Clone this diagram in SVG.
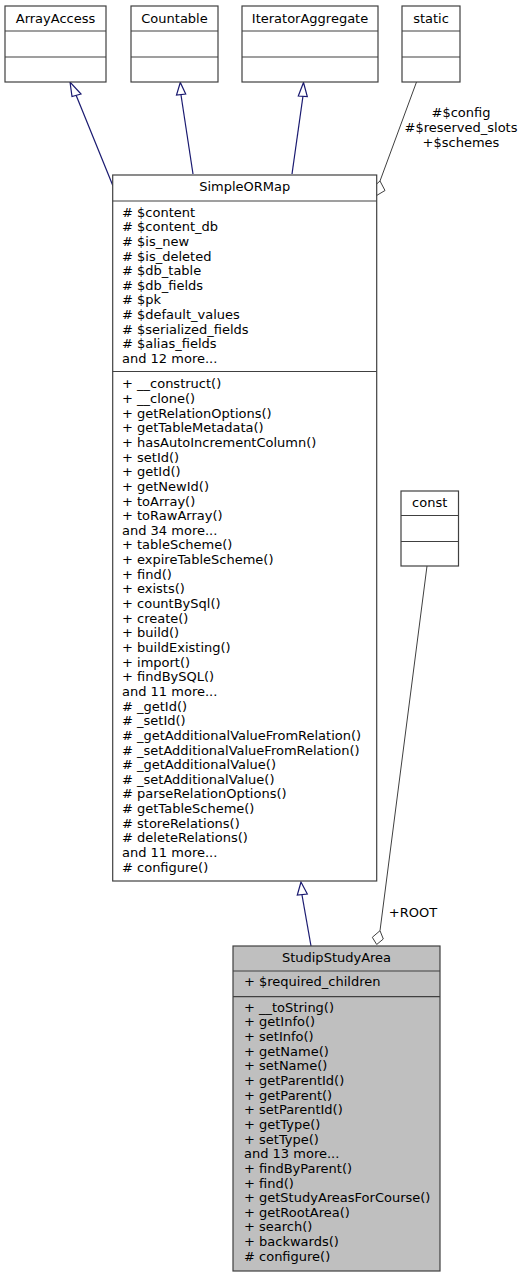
<svg xmlns="http://www.w3.org/2000/svg" width="529" height="1277" viewBox="0 0 529 1277">
<style>
text{font-family:"DejaVu Sans","Liberation Sans",sans-serif;font-size:13px;fill:#000}
.c{text-anchor:middle}
.box{fill:#fff;stroke:#404040;stroke-width:1.2}
.grey{fill:#bfbfbf}
.div{stroke:#404040;stroke-width:1.2}
.inh{fill:none;stroke:#191970;stroke-width:1.2}
.inhh{fill:#fff;stroke:#191970;stroke-width:1.2}
.agg{fill:none;stroke:#404040;stroke-width:1}
.aggh{fill:#fff;stroke:#404040;stroke-width:1}
</style>
<rect width="529" height="1277" fill="#fff"/>
<g id="connectors">
<path class="inh" d="M113,186 L76,95"/>
<polygon class="inhh" points="70,82 72,96.5 81,94"/>
<path class="inh" d="M193,174 L181,95"/>
<polygon class="inhh" points="180.3,82.5 176.5,95 185.7,94"/>
<path class="inh" d="M292,174 L303,96"/>
<polygon class="inhh" points="303.5,82.5 298.3,96 307.3,96.5"/>
<path class="agg" d="M416.5,82 L380,181"/>
<polygon class="aggh" points="380,181 385,190.5 376.3,195.7 374.3,186"/>
<text class="c" x="461" y="117">#$config</text>
<text class="c" x="461" y="131.7">#$reserved_slots</text>
<text class="c" x="461" y="146.5">+$schemes</text>
<path class="inh" d="M311,946 L302,895"/>
<polygon class="inhh" points="301,882 297.3,895 307.3,894"/>
<path class="agg" d="M427,566 L380,930.7"/>
<polygon class="aggh" points="380,930.7 383.3,939 376.7,944.5 372.3,937.3"/>
<text class="c" x="413" y="916.5">+ROOT</text>
</g>
<g id="node-ArrayAccess">
<rect class="box" x="5" y="6" width="101" height="76"/>
<line class="div" x1="5" y1="31" x2="106" y2="31"/>
<line class="div" x1="5" y1="57" x2="106" y2="57"/>
<text class="c" x="55.5" y="22.5">ArrayAccess</text>
</g>
<g id="node-Countable">
<rect class="box" x="131" y="6" width="87" height="76"/>
<line class="div" x1="131" y1="31" x2="218" y2="31"/>
<line class="div" x1="131" y1="57" x2="218" y2="57"/>
<text class="c" x="174.5" y="22.5">Countable</text>
</g>
<g id="node-IteratorAggregate">
<rect class="box" x="242" y="6" width="136" height="76"/>
<line class="div" x1="242" y1="31" x2="378" y2="31"/>
<line class="div" x1="242" y1="57" x2="378" y2="57"/>
<text class="c" x="310" y="22.5">IteratorAggregate</text>
</g>
<g id="node-static">
<rect class="box" x="402" y="6" width="58" height="76"/>
<line class="div" x1="402" y1="31" x2="460" y2="31"/>
<line class="div" x1="402" y1="57" x2="460" y2="57"/>
<text class="c" x="431" y="22.5">static</text>
</g>
<g id="node-const">
<rect class="box" x="401" y="491" width="57.5" height="75"/>
<line class="div" x1="401" y1="515.5" x2="458.5" y2="515.5"/>
<line class="div" x1="401" y1="541.5" x2="458.5" y2="541.5"/>
<text class="c" x="429.7" y="507">const</text>
</g>
<g id="node-SimpleORMap">
<rect class="box" x="112.7" y="175" width="264" height="706"/>
<line class="div" x1="112.7" y1="201" x2="376.7" y2="201"/>
<line class="div" x1="112.7" y1="371.5" x2="376.7" y2="371.5"/>
<text class="c" x="244.7" y="191">SimpleORMap</text>
<text x="122" y="216.7"><tspan x="122"># $content</tspan><tspan x="122" dy="14.6"># $content_db</tspan><tspan x="122" dy="14.6"># $is_new</tspan><tspan x="122" dy="14.6"># $is_deleted</tspan><tspan x="122" dy="14.6"># $db_table</tspan><tspan x="122" dy="14.6"># $db_fields</tspan><tspan x="122" dy="14.6"># $pk</tspan><tspan x="122" dy="14.6"># $default_values</tspan><tspan x="122" dy="14.6"># $serialized_fields</tspan><tspan x="122" dy="14.6"># $alias_fields</tspan><tspan x="122" dy="14.6">and 12 more...</tspan></text>
<text x="122" y="388.3"><tspan x="122">+ __construct()</tspan><tspan x="122" dy="14.65">+ __clone()</tspan><tspan x="122" dy="14.65">+ getRelationOptions()</tspan><tspan x="122" dy="14.65">+ getTableMetadata()</tspan><tspan x="122" dy="14.65">+ hasAutoIncrementColumn()</tspan><tspan x="122" dy="14.65">+ setId()</tspan><tspan x="122" dy="14.65">+ getId()</tspan><tspan x="122" dy="14.65">+ getNewId()</tspan><tspan x="122" dy="14.65">+ toArray()</tspan><tspan x="122" dy="14.65">+ toRawArray()</tspan><tspan x="122" dy="14.65">and 34 more...</tspan><tspan x="122" dy="14.65">+ tableScheme()</tspan><tspan x="122" dy="14.65">+ expireTableScheme()</tspan><tspan x="122" dy="14.65">+ find()</tspan><tspan x="122" dy="14.65">+ exists()</tspan><tspan x="122" dy="14.65">+ countBySql()</tspan><tspan x="122" dy="14.65">+ create()</tspan><tspan x="122" dy="14.65">+ build()</tspan><tspan x="122" dy="14.65">+ buildExisting()</tspan><tspan x="122" dy="14.65">+ import()</tspan><tspan x="122" dy="14.65">+ findBySQL()</tspan><tspan x="122" dy="14.65">and 11 more...</tspan><tspan x="122" dy="14.65"># _getId()</tspan><tspan x="122" dy="14.65"># _setId()</tspan><tspan x="122" dy="14.65"># _getAdditionalValueFromRelation()</tspan><tspan x="122" dy="14.65"># _setAdditionalValueFromRelation()</tspan><tspan x="122" dy="14.65"># _getAdditionalValue()</tspan><tspan x="122" dy="14.65"># _setAdditionalValue()</tspan><tspan x="122" dy="14.65"># parseRelationOptions()</tspan><tspan x="122" dy="14.65"># getTableScheme()</tspan><tspan x="122" dy="14.65"># storeRelations()</tspan><tspan x="122" dy="14.65"># deleteRelations()</tspan><tspan x="122" dy="14.65">and 11 more...</tspan><tspan x="122" dy="14.65"># configure()</tspan></text>
</g>
<g id="node-StudipStudyArea">
<rect class="box grey" x="233" y="946" width="207" height="325"/>
<line class="div" x1="233" y1="971" x2="440" y2="971"/>
<line class="div" x1="233" y1="996.7" x2="440" y2="996.7"/>
<text class="c" x="336.5" y="962">StudipStudyArea</text>
<text x="244" y="986.3">+ $required_children</text>
<text x="244" y="1011.7"><tspan x="244">+ __toString()</tspan><tspan x="244" dy="14.65">+ getInfo()</tspan><tspan x="244" dy="14.65">+ setInfo()</tspan><tspan x="244" dy="14.65">+ getName()</tspan><tspan x="244" dy="14.65">+ setName()</tspan><tspan x="244" dy="14.65">+ getParentId()</tspan><tspan x="244" dy="14.65">+ getParent()</tspan><tspan x="244" dy="14.65">+ setParentId()</tspan><tspan x="244" dy="14.65">+ getType()</tspan><tspan x="244" dy="14.65">+ setType()</tspan><tspan x="244" dy="14.65">and 13 more...</tspan><tspan x="244" dy="14.65">+ findByParent()</tspan><tspan x="244" dy="14.65">+ find()</tspan><tspan x="244" dy="14.65">+ getStudyAreasForCourse()</tspan><tspan x="244" dy="14.65">+ getRootArea()</tspan><tspan x="244" dy="14.65">+ search()</tspan><tspan x="244" dy="14.65">+ backwards()</tspan><tspan x="244" dy="14.65"># configure()</tspan></text>
</g>
</svg>
